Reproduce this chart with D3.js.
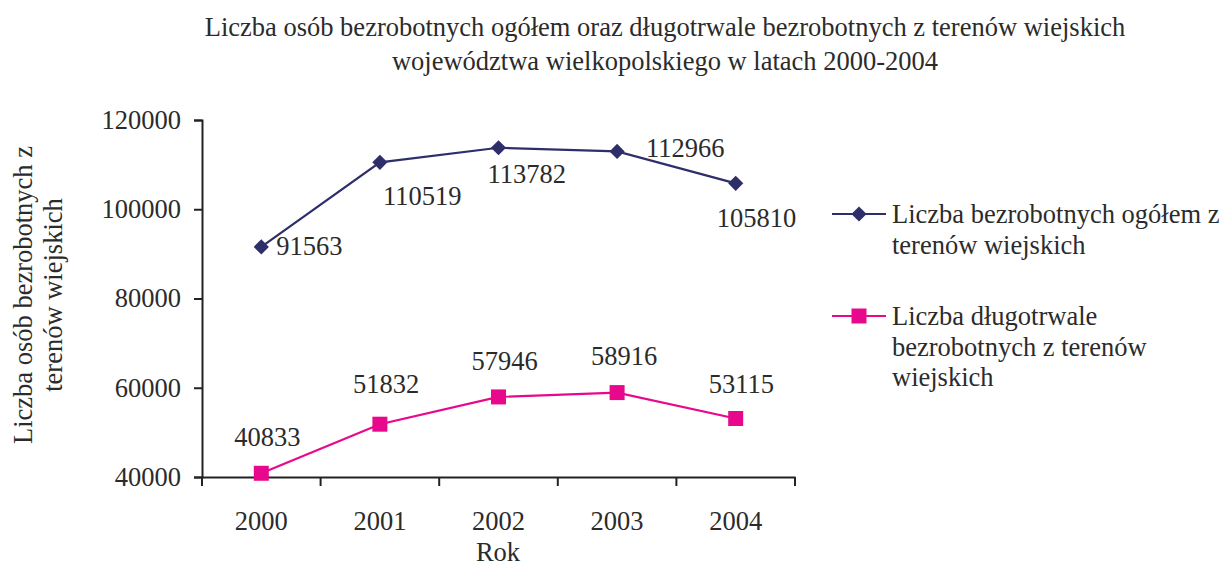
<!DOCTYPE html>
<html>
<head>
<meta charset="utf-8">
<script src="https://cdn.jsdelivr.net/npm/d3@7"></script>
<style>
  body { margin: 0; background: #fff; }
  svg text { font-family: "Liberation Serif", "Times New Roman", serif; fill: #2b2b2b; }
</style>
</head>
<body>
<svg id="chart" width="1222" height="566"></svg>
<script>
var years = ["2000", "2001", "2002", "2003", "2004"];
var totalRural = [91563, 110519, 113782, 112966, 105810];
var longTermRural = [40833, 51832, 57946, 58916, 53115];
var yTicks = [40000, 60000, 80000, 100000, 120000];
var seriesNames = [
  ["Liczba bezrobotnych ogółem z", "terenów wiejskich"],
  ["Liczba długotrwale", "bezrobotnych z terenów", "wiejskich"]
];

var svg = d3.select("#chart"),
  fs = 26.5;

var x = d3.scaleBand().domain(years).range([202, 795]);
var y = d3.scaleLinear().domain([40000, 120000]).range([477, 120]);

// axes
var yAxis = svg.append("g")
  .attr("transform", "translate(202,0)")
  .call(d3.axisLeft(y).tickValues(yTicks).tickSize(8).tickPadding(13).tickFormat(d3.format("d")));
var xAxis = svg.append("g")
  .attr("transform", "translate(0,477)")
  .call(d3.axisBottom(x).tickSize(0).tickPadding(34));

// category boundary ticks
xAxis.selectAll(".bound")
  .data(d3.range(years.length + 1))
  .enter().append("line")
    .attr("x1", function(i) { return 202 + i * x.bandwidth(); })
    .attr("x2", function(i) { return 202 + i * x.bandwidth(); })
    .attr("y1", 0).attr("y2", 9)
    .attr("stroke", "#222").attr("stroke-width", 2);

[yAxis, xAxis].forEach(function(a) {
  a.select(".domain").attr("stroke", "#222").attr("stroke-width", 2);
  a.selectAll(".tick line").attr("stroke", "#222").attr("stroke-width", 2);
  a.selectAll("text").style("font-size", fs + "px").style("font-family", "Liberation Serif").attr("fill", "#2b2b2b");
});

var cx = function(i) { return x(years[i]) + x.bandwidth() / 2; };

// diamond = square turned by 45 degrees
var series = [
  {values: totalRural, color: "#2e2e6b", size: 115, rot: 45},
  {values: longTermRural, color: "#e8088c", size: 225, rot: 0}
];

series.forEach(function(s) {
  svg.append("path")
    .datum(s.values)
    .attr("fill", "none")
    .attr("stroke", s.color)
    .attr("stroke-width", 2.2)
    .attr("d", d3.line().x(function(d, i) { return cx(i); }).y(function(d) { return y(d); }));
  svg.selectAll(null)
    .data(s.values)
    .enter().append("path")
      .attr("transform", function(d, i) { return "translate(" + cx(i) + "," + y(d) + ") rotate(" + s.rot + ")"; })
      .attr("d", d3.symbol().type(d3.symbolSquare).size(s.size))
      .attr("fill", s.color);
});

// data labels (offset dx, dy relative to point, anchor start)
var totalOffsets = [[15, 8], [3, 43], [-11, 35], [29, 6], [-19, 44]];
var longOffsets = [[-27, -27], [-27, -31], [-27, -27], [-26, -28], [-27, -25]];
function labels(vals, offs) {
  svg.selectAll(null)
    .data(vals)
    .enter().append("text")
      .attr("x", function(d, i) { return cx(i) + offs[i][0]; })
      .attr("y", function(d, i) { return y(d) + offs[i][1]; })
      .style("font-size", fs + "px")
      .text(function(d) { return d; });
}
labels(totalRural, totalOffsets);
labels(longTermRural, longOffsets);

// title
svg.append("text")
  .attr("text-anchor", "middle")
  .style("font-size", fs + "px")
  .selectAll("tspan")
  .data(["Liczba osób bezrobotnych ogółem oraz długotrwale bezrobotnych z terenów wiejskich",
         "województwa wielkopolskiego w latach 2000-2004"])
  .enter().append("tspan")
    .attr("x", 665)
    .attr("y", function(d, i) { return 36 + i * 34; })
    .text(function(d) { return d; });

// axis titles
svg.append("text")
  .attr("text-anchor", "middle")
  .attr("x", 498).attr("y", 561)
  .style("font-size", fs + "px")
  .text("Rok");

svg.append("text")
  .attr("text-anchor", "middle")
  .attr("transform", "translate(0,295) rotate(-90)")
  .style("font-size", fs + "px")
  .selectAll("tspan")
  .data(["Liczba osób bezrobotnych z", "terenów wiejskich"])
  .enter().append("tspan")
    .attr("x", 0)
    .attr("y", function(d, i) { return 32 + i * 30; })
    .text(function(d) { return d; });

// legend
var legendY = [214, 316];
series.forEach(function(s, k) {
  var g = svg.append("g").attr("transform", "translate(832," + legendY[k] + ")");
  g.append("line").attr("x1", 0).attr("x2", 54).attr("stroke", s.color).attr("stroke-width", 2.2);
  g.append("path").attr("transform", "translate(27,0) rotate(" + s.rot + ")")
    .attr("d", d3.symbol().type(d3.symbolSquare).size(s.size)).attr("fill", s.color);
  g.append("text")
    .style("font-size", fs + "px")
    .selectAll("tspan")
    .data(seriesNames[k])
    .enter().append("tspan")
      .attr("x", 60)
      .attr("y", function(d, i) { return 9 + i * 30.5; })
      .text(function(d) { return d; });
});
</script>
</body>
</html>
